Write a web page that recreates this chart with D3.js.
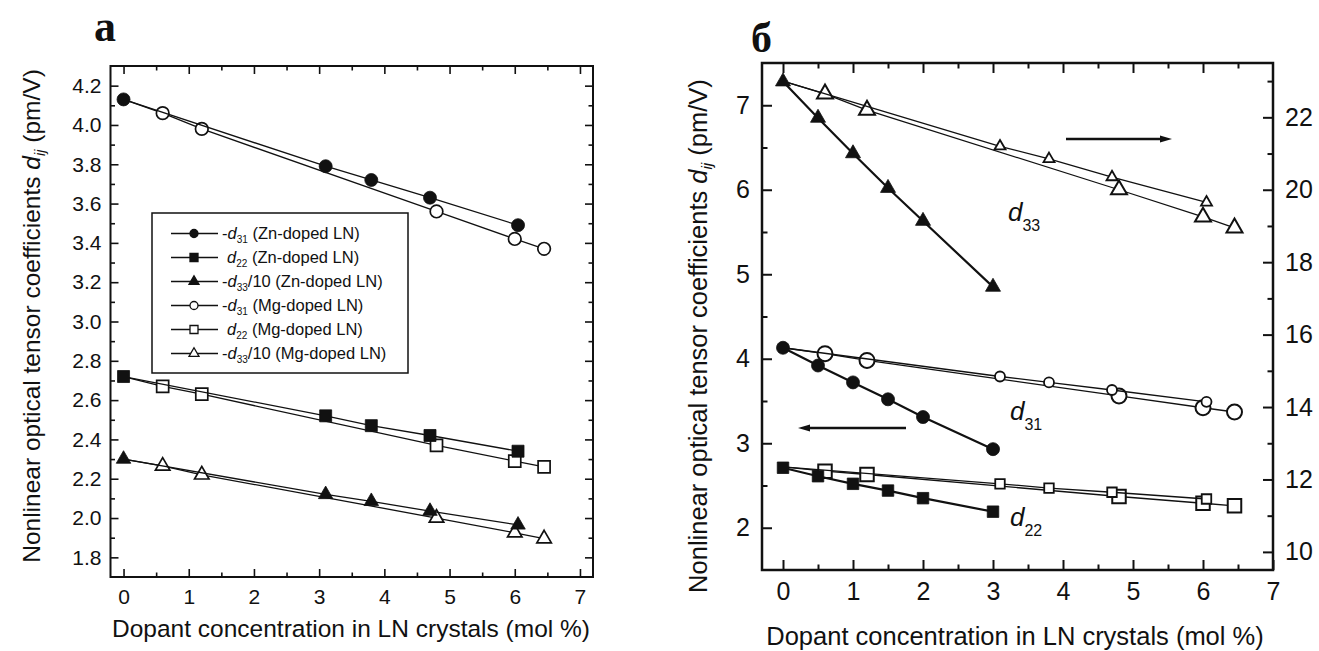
<!DOCTYPE html>
<html>
<head>
<meta charset="utf-8">
<script src="https://cdn.jsdelivr.net/npm/d3@7"></script>
<style>
  body { margin: 0; background: #fff; }
  svg { display: block; font-family: "Liberation Sans", Arial, Helvetica, sans-serif; }
</style>
</head>
<body>
<svg id="chart" width="1319" height="651"></svg>
<script>
// ---------- Panel (а): Zn- and Mg-doped LN ----------
const concZn = [0, 3.1, 3.8, 4.7, 6.05];
const concMg = [0, 0.6, 1.2, 4.8, 6.0, 6.45];
const d31Zn = [4.13, 3.79, 3.72, 3.63, 3.49];          // -d31, pm/V
const d31Mg = [4.13, 4.06, 3.98, 3.56, 3.42, 3.37];
const d22Zn = [2.72, 2.52, 2.47, 2.42, 2.34];          // d22, pm/V
const d22Mg = [2.72, 2.67, 2.63, 2.37, 2.29, 2.26];
const d33Zn10 = [2.30, 2.12, 2.085, 2.035, 1.965];     // -d33/10, pm/V
const d33Mg10 = [2.30, 2.265, 2.22, 2.0, 1.925, 1.895];

// ---------- Panel (б): additional dopant series (filled markers) ----------
const concB = [0, 0.5, 1, 1.5, 2, 3];
const d33B = [7.28, 6.85, 6.43, 6.02, 5.63, 4.85];
const d31B = [4.13, 3.92, 3.72, 3.52, 3.31, 2.93];
const d22B = [2.71, 2.61, 2.52, 2.44, 2.35, 2.19];

// ---------- Tick values ----------
const xTicks = [0, 1, 2, 3, 4, 5, 6, 7];
const xMinorA = [0.5, 1.5, 2.5, 3.5, 4.5, 5.5, 6.5];
const yTicksA = [1.8, 2.0, 2.2, 2.4, 2.6, 2.8, 3.0, 3.2, 3.4, 3.6, 3.8, 4.0, 4.2];
const yMinorA = [1.9, 2.1, 2.3, 2.5, 2.7, 2.9, 3.1, 3.3, 3.5, 3.7, 3.9, 4.1];
const yTicksB = [2, 3, 4, 5, 6, 7];
const yMinorB = [2.5, 3.5, 4.5, 5.5, 6.5];
const yTicksBR = [10, 12, 14, 16, 18, 20, 22];
const yMinorBR = [11, 13, 15, 17, 19, 21, 23];

const legendRows = [
  { pre: "-", sub: "31", post: " (Zn-doped LN)", shape: "circle", filled: true },
  { pre: "",  sub: "22", post: " (Zn-doped LN)", shape: "square", filled: true },
  { pre: "-", sub: "33", post: "/10 (Zn-doped LN)", shape: "triangle", filled: true },
  { pre: "-", sub: "31", post: " (Mg-doped LN)", shape: "circle", filled: false },
  { pre: "",  sub: "22", post: " (Mg-doped LN)", shape: "square", filled: false },
  { pre: "-", sub: "33", post: "/10 (Mg-doped LN)", shape: "triangle", filled: false }
];

const svg = d3.select("#chart");

// ---------- helpers ----------
const symType = { circle: d3.symbolCircle, square: d3.symbolSquare, triangle: d3.symbolTriangle };
// area of a marker from its characteristic size (radius / side)
function symArea(shape, s) {
  if (shape === "circle") return Math.PI * s * s;
  if (shape === "square") return s * s;
  return Math.sqrt(3) / 4 * s * s;
}

function drawSeries(g, xs, ys, x, y, o) {
  const pts = d3.zip(xs, ys);
  g.append("path")
    .datum(pts)
    .attr("fill", "none")
    .attr("stroke", "#111")
    .attr("stroke-width", o.lineWidth)
    .attr("d", d3.line().x(d => x(d[0])).y(d => y(d[1])));
  const mk = o.skipFirst ? pts.slice(1) : pts;
  g.selectAll(null).data(mk).enter().append("path")
    .attr("transform", d => `translate(${x(d[0])},${y(d[1])})`)
    .attr("d", d3.symbol().type(symType[o.shape]).size(symArea(o.shape, o.size)))
    .attr("fill", o.filled ? "#111" : "#fff")
    .attr("stroke", "#111")
    .attr("stroke-width", o.filled ? 0.8 : o.markerStroke || 1.7);
}

// text with italic d and subscript
function richText(sel, parts, subSize, subShift) {
  parts.forEach(p => {
    const t = sel.append("tspan").text(p.t);
    if (p.italic) t.attr("font-style", "italic");
    if (p.sub) t.attr("font-size", subSize).attr("dy", subShift);
    if (p.unsub) t.attr("dy", -subShift);
  });
}

function frame(g, x, y, o) {
  const [x0, x1] = x.range();
  const [y0, y1] = y.range();
  const style = ax => {
    ax.select(".domain").remove();
    ax.selectAll(".tick line").attr("stroke", "#111").attr("stroke-width", o.tickWidth);
    ax.selectAll(".tick text").attr("fill", "#111").attr("font-size", o.tickFont);
  };
  // bottom
  g.append("g").attr("transform", `translate(0,${y0})`)
    .call(d3.axisBottom(x).tickValues(xTicks).tickFormat(d3.format("d"))
      .tickSizeInner(-o.major).tickSizeOuter(0).tickPadding(o.xPad)).call(style);
  g.append("g").attr("transform", `translate(0,${y0})`)
    .call(d3.axisBottom(x).tickValues(o.xMinor).tickFormat("")
      .tickSizeInner(-o.minor).tickSizeOuter(0)).call(style);
  // top
  g.append("g").attr("transform", `translate(0,${y1})`)
    .call(d3.axisTop(x).tickValues(xTicks.concat(o.xMinor).filter(v => v <= x.domain()[1] - 0.01))
      .tickFormat("").tickSizeInner(-o.major).tickSizeOuter(0)).call(style)
    .selectAll(".tick line").attr("y2", d => Number.isInteger(d) ? o.major : o.minor);
  // left
  g.append("g").attr("transform", `translate(${x0},0)`)
    .call(d3.axisLeft(y).tickValues(o.yTicks).tickFormat(o.yFormat)
      .tickSizeInner(-o.major).tickSizeOuter(0).tickPadding(o.yPad)).call(style);
  g.append("g").attr("transform", `translate(${x0},0)`)
    .call(d3.axisLeft(y).tickValues(o.yMinor).tickFormat("")
      .tickSizeInner(-o.minor).tickSizeOuter(0)).call(style);
  // right
  const yr = o.yRight || y;
  g.append("g").attr("transform", `translate(${x1},0)`)
    .call(d3.axisRight(yr).tickValues(o.yRight ? o.yRTicks : o.yTicks)
      .tickFormat(o.yRight ? d3.format("d") : "")
      .tickSizeInner(-o.major).tickSizeOuter(0).tickPadding(o.yPad)).call(style);
  g.append("g").attr("transform", `translate(${x1},0)`)
    .call(d3.axisRight(yr).tickValues(o.yRight ? o.yRMinor : o.yMinor).tickFormat("")
      .tickSizeInner(-o.minor).tickSizeOuter(0)).call(style);
  // box
  g.append("rect")
    .attr("x", x0).attr("y", y1).attr("width", x1 - x0).attr("height", y0 - y1)
    .attr("fill", "none").attr("stroke", "#111").attr("stroke-width", o.boxWidth);
}

function axisTitles(g, o) {
  g.append("text")
    .attr("x", o.xTitleX).attr("y", o.xTitleY)
    .attr("text-anchor", "middle").attr("font-size", o.titleFont).attr("fill", "#111")
    .text("Dopant concentration in LN crystals (mol %)");
  const yt = g.append("text")
    .attr("transform", `translate(${o.yTitleX},${o.yTitleY}) rotate(-90)`)
    .attr("text-anchor", "middle").attr("font-size", o.titleFont).attr("fill", "#111");
  richText(yt, [
    { t: "Nonlinear optical tensor coefficients " },
    { t: "d", italic: true },
    { t: "ij", italic: true, sub: true },
    { t: " (pm/V)", unsub: true }
  ], o.titleFont * 0.6, 5);
}

// ================= Panel (а) =================
{
  const g = svg.append("g");
  const x = d3.scaleLinear().domain([-0.2, 7.2]).range([110.5, 593]);
  const y = d3.scaleLinear().domain([1.7, 4.3]).range([577, 66]);
  const plot = g.append("g");

  const lw = 1.3;
  drawSeries(plot, concMg, d31Mg, x, y, { shape: "circle", filled: false, size: 6.3, lineWidth: lw, skipFirst: true });
  drawSeries(plot, concMg, d22Mg, x, y, { shape: "square", filled: false, size: 12, lineWidth: lw, skipFirst: true });
  drawSeries(plot, concMg, d33Mg10, x, y, { shape: "triangle", filled: false, size: 14.5, lineWidth: lw, skipFirst: true });
  drawSeries(plot, concZn, d31Zn, x, y, { shape: "circle", filled: true, size: 6.5, lineWidth: lw });
  drawSeries(plot, concZn, d22Zn, x, y, { shape: "square", filled: true, size: 12, lineWidth: lw });
  drawSeries(plot, concZn, d33Zn10, x, y, { shape: "triangle", filled: true, size: 14.5, lineWidth: lw });

  frame(g, x, y, {
    major: 8, minor: 4.5, tickWidth: 1.6, boxWidth: 2, tickFont: 21,
    xPad: 12, yPad: 9, xMinor: xMinorA,
    yTicks: yTicksA, yMinor: yMinorA, yFormat: d3.format(".1f")
  });

  // legend
  const lg = g.append("g");
  lg.append("rect").attr("x", 152).attr("y", 213).attr("width", 256).attr("height", 160)
    .attr("fill", "#fff").attr("stroke", "#111").attr("stroke-width", 1.5);
  legendRows.forEach((r, i) => {
    const cy = 233.5 + i * 24;
    lg.append("line").attr("x1", 171).attr("x2", 218).attr("y1", cy).attr("y2", cy)
      .attr("stroke", "#111").attr("stroke-width", 1.3);
    const sz = r.shape === "circle" ? 4 : r.shape === "square" ? 8 : 10;
    lg.append("path").attr("transform", `translate(194,${cy})`)
      .attr("d", d3.symbol().type(symType[r.shape]).size(symArea(r.shape, sz)))
      .attr("fill", r.filled ? "#111" : "#fff").attr("stroke", "#111").attr("stroke-width", 1.3);
    const t = lg.append("text").attr("x", r.pre ? 222 : 227).attr("y", cy + 5.5)
      .attr("font-size", 16.5).attr("fill", "#111");
    const parts = [];
    if (r.pre) parts.push({ t: r.pre });
    parts.push({ t: "d", italic: true }, { t: r.sub, sub: true }, { t: r.post, unsub: true });
    richText(t, parts, 10, 4);
  });

  axisTitles(g, { xTitleX: 351, xTitleY: 637, titleFont: 24.5, yTitleX: 40, yTitleY: 316 });

  g.append("text").attr("x", 94).attr("y", 41)
    .attr("font-family", "'Liberation Serif', 'Times New Roman', serif")
    .attr("font-weight", "bold").attr("font-size", 44).attr("fill", "#111").text("а");
}

// ================= Panel (б) =================
{
  const g = svg.append("g");
  const x = d3.scaleLinear().domain([-0.3, 7.0]).range([762, 1273]);
  const y = d3.scaleLinear().domain([1.5, 7.5]).range([570, 63]);
  const yR = d3.scaleLinear().domain([9.5, 23.5]).range([570, 63]);
  const plot = g.append("g");
  const d33Zn = d33Zn10.map(v => v * 10);   // -d33 in pm/V
  const d33Mg = d33Mg10.map(v => v * 10);

  const thin = 1.3, thick = 2.2;
  // d33 group, right axis
  drawSeries(plot, concMg, d33Mg, x, yR, { shape: "triangle", filled: false, size: 16, lineWidth: thin, skipFirst: true, markerStroke: 2 });
  drawSeries(plot, concZn, d33Zn, x, yR, { shape: "triangle", filled: false, size: 11, lineWidth: thin, skipFirst: true, markerStroke: 1.8 });
  drawSeries(plot, concB, d33B, x, y, { shape: "triangle", filled: true, size: 15, lineWidth: thick });
  // d31 group, left axis
  drawSeries(plot, concMg, d31Mg, x, y, { shape: "circle", filled: false, size: 7.5, lineWidth: thin, skipFirst: true, markerStroke: 2 });
  drawSeries(plot, concZn, d31Zn, x, y, { shape: "circle", filled: false, size: 5, lineWidth: thin, skipFirst: true, markerStroke: 1.8 });
  drawSeries(plot, concB, d31B, x, y, { shape: "circle", filled: true, size: 6.5, lineWidth: thick });
  // d22 group, left axis
  drawSeries(plot, concMg, d22Mg, x, y, { shape: "square", filled: false, size: 13.5, lineWidth: thin, skipFirst: true, markerStroke: 2 });
  drawSeries(plot, concZn, d22Zn, x, y, { shape: "square", filled: false, size: 9.5, lineWidth: thin, skipFirst: true, markerStroke: 1.8 });
  drawSeries(plot, concB, d22B, x, y, { shape: "square", filled: true, size: 11.5, lineWidth: thick });

  frame(g, x, y, {
    major: 10, minor: 5.5, tickWidth: 2, boxWidth: 2.5, tickFont: 25,
    xPad: 12, yPad: 12, xMinor: xMinorA,
    yTicks: yTicksB, yMinor: yMinorB, yFormat: d3.format("d"),
    yRight: yR, yRTicks: yTicksBR, yRMinor: yMinorBR
  });

  // curve labels
  const lab = (lx, ly, sub) => {
    const t = g.append("text").attr("x", lx).attr("y", ly).attr("font-size", 26).attr("fill", "#111");
    richText(t, [{ t: "d", italic: true }, { t: sub, sub: true }], 16, 10);
  };
  lab(1008, 221, "33");
  lab(1010, 420, "31");
  lab(1010, 526, "22");

  // arrows pointing to the axis each group belongs to
  const arrow = (xa, xb, ya) => {
    const dir = Math.sign(xb - xa);
    g.append("line").attr("x1", xa).attr("x2", xb - dir * 8).attr("y1", ya).attr("y2", ya)
      .attr("stroke", "#111").attr("stroke-width", 2.5);
    g.append("path")
      .attr("d", `M${xb},${ya} L${xb - dir * 12},${ya - 3.5} L${xb - dir * 12},${ya + 3.5} Z`)
      .attr("fill", "#111");
  };
  arrow(1066, 1172, 139);
  arrow(906, 798, 428);

  axisTitles(g, { xTitleX: 1015, xTitleY: 645, titleFont: 25.5, yTitleX: 707, yTitleY: 336 });

  g.append("text").attr("x", 751).attr("y", 52)
    .attr("font-family", "'Liberation Serif', 'Times New Roman', serif")
    .attr("font-weight", "bold").attr("font-size", 42).attr("fill", "#111").text("б");
}
</script>
</body>
</html>
